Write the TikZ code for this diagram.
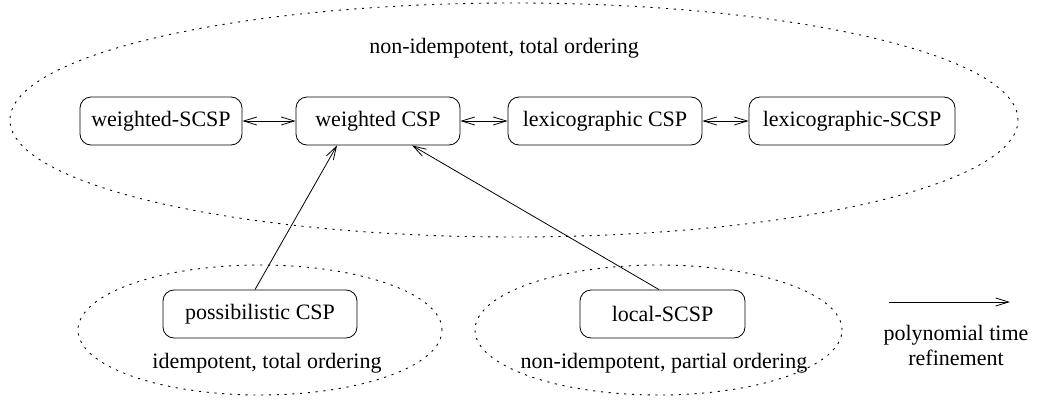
\documentclass[tikz,border=0pt]{standalone}
\usepackage{fontspec}
\setmainfont{Liberation Serif}
\newfontfamily\diagfont{Liberation Serif}
\usetikzlibrary{arrows.meta,shapes.geometric}
\begin{document}
\begin{tikzpicture}[x=1pt,y=-1pt,
  every node/.style={font=\diagfont\fontsize{22}{26}\selectfont},
  csp/.style={draw, rounded corners=11pt, line width=0.8pt, minimum height=48pt, inner sep=0pt},
  region/.style={draw, ellipse, dash pattern=on 2.2pt off 5.6pt, line width=0.9pt, inner sep=0pt},
  label/.style={inner sep=0pt},
  refine/.style={-{Straight Barb[length=13pt,width=8pt,line width=0.8pt]}, line width=0.8pt},
  equiv/.style={{Straight Barb[length=13pt,width=8pt,line width=0.8pt]}-{Straight Barb[length=13pt,width=8pt,line width=0.8pt]}, line width=0.8pt}
]
\useasboundingbox (0,0) rectangle (1039,399);

% problem classes, grouped by the properties of their semirings
\node[region, minimum width=1008pt, minimum height=234pt] (top) at (514,120) {};
\node[region, minimum width=364pt, minimum height=130pt] (idem) at (260,330) {};
\node[region, minimum width=367pt, minimum height=130pt] (part) at (658.5,330) {};

\node[label] (toplbl) at (504,48) {non-idempotent, total ordering};
\node[label] (idemlbl) at (267,363) {idempotent, total ordering};
\node[label] (partlbl) at (664,363) {non-idempotent, partial ordering};

% the frameworks
\node[csp, minimum width=162pt] (wscsp) at (161,121) {weighted-SCSP};
\node[csp, minimum width=164pt] (wcsp) at (378,121) {weighted CSP};
\node[csp, minimum width=194pt] (lcsp) at (605,121) {lexicographic CSP};
\node[csp, minimum width=206pt] (lscsp) at (852,121) {lexicographic-SCSP};
\node[csp, minimum width=194pt] (poss) at (260,314) {possibilistic CSP};
\node[csp, minimum width=165pt] (local) at (662.5,314) {local-SCSP};

% refinements
\draw[equiv] (wscsp.east) -- (wcsp.west);
\draw[equiv] (wcsp.east) -- (lcsp.west);
\draw[equiv] (lcsp.east) -- (lscsp.west);
\draw[refine] ([xshift=-5pt]poss.north) -- ([xshift=-41pt]wcsp.south);
\draw[refine] ([xshift=-3.5pt]local.north) -- ([xshift=34pt]wcsp.south);

% legend
\coordinate (legA) at (889,302);
\coordinate (legB) at (1010,302);
\draw[refine] (legA) -- (legB);
\node[label, align=center] (leglbl) at (956,345) {polynomial time\\[-1pt]refinement};
\end{tikzpicture}
\end{document}
